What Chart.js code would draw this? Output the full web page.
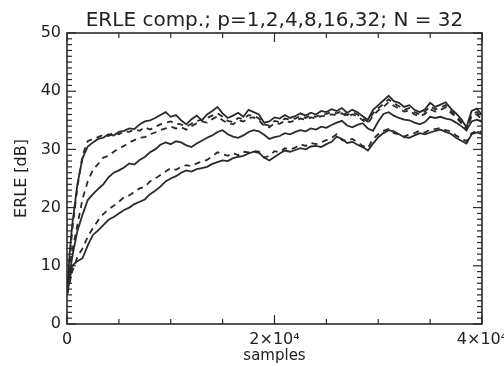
<!DOCTYPE html>
<html>
<head>
<meta charset="utf-8">
<script src="https://cdn.jsdelivr.net/npm/chart.js@4.4.1/dist/chart.umd.min.js"></script>
<style>
  html, body { margin: 0; padding: 0; background: #fff; }
  canvas { display: block; }
</style>
</head>
<body>
<canvas id="erleChart" width="504" height="366"></canvas>
<script>
// sample index (x axis)
const samples = [0,250,500,1000,1500,2000,2500,3000,3500,4000,4500,5000,5500,6000,6500,7000,7500,8000,8500,9000,9500,10000,10500,11000,11500,12000,12500,13000,13500,14000,14500,15000,15500,16000,16500,17000,17500,18000,18500,19000,19500,20000,20500,21000,21500,22000,22500,23000,23500,24000,24500,25000,25500,26000,26500,27000,27500,28000,28500,29000,29500,30000,30500,31000,31500,32000,32500,33000,33500,34000,34500,35000,35500,36000,36500,37000,37500,38000,38500,39000,39500,40000];

// ERLE in dB, one curve per p
const erleP32 = [5,12,17,24,28.5,30.5,31.2,31.8,32.0,32.6,32.4,33.0,33.2,33.6,33.5,34.3,34.8,35.0,35.4,35.9,36.4,35.6,35.9,35.0,34.3,35.2,35.8,35.0,36.0,36.6,37.3,36.2,35.4,35.8,36.3,35.6,36.8,36.4,36.0,34.6,34.8,35.5,35.3,35.9,35.4,35.7,36.2,35.8,36.3,36.0,36.6,36.4,36.9,36.6,37.1,36.3,36.8,36.4,35.7,35.1,36.8,37.6,38.4,39.2,38.3,38.0,37.3,37.6,36.8,36.4,36.9,38.0,37.3,37.7,38.1,37.0,36.2,35.2,33.8,36.6,37.0,35.9];
const erleP16 = [5,11,16,23.5,29,31.4,31.8,32.1,32.5,32.3,32.9,32.6,33.1,33.0,33.4,33.2,33.8,33.4,33.9,34.3,34.6,34.8,34.4,34.3,33.9,34.4,34.9,35.1,35.4,35.8,36.2,35.6,34.9,34.7,35.4,35.2,35.9,35.8,35.3,34.3,34.1,34.9,34.7,35.3,35.1,35.3,35.7,35.4,35.9,35.6,36.0,36.1,36.4,36.2,36.6,35.9,36.4,36.0,35.3,34.8,36.2,37.1,37.8,38.6,37.9,37.4,36.8,37.1,36.4,36.0,36.5,37.4,36.9,37.2,37.6,36.6,35.8,34.8,33.5,36.1,36.4,35.5];
const erleP8 = [5,9,12.5,17,21.5,24.5,26.5,27.5,28.6,28.9,29.6,30.2,30.6,31.2,31.6,32.0,32.1,32.6,32.9,33.3,33.6,33.9,33.6,33.8,33.4,34.0,34.5,34.8,34.6,35.2,35.7,35.0,34.5,34.3,35.0,34.8,35.4,35.5,35.0,34.0,33.8,34.5,34.4,34.9,34.7,35.0,35.3,35.1,35.5,35.3,35.7,35.8,36.0,35.9,36.2,35.6,36.0,35.7,35.0,34.5,35.8,36.7,37.3,38.1,37.5,37.0,36.5,36.7,36.0,35.7,36.1,36.9,36.5,36.8,37.2,36.3,35.5,34.5,33.3,35.7,36.0,35.2];
const erleP4 = [5,8.5,11.5,16,18.8,21.3,22.3,23.2,24.0,25.2,26.0,26.4,26.9,27.6,27.4,28.2,28.7,29.5,30.0,30.8,31.2,30.9,31.4,31.2,30.7,30.4,31.0,31.5,32.0,32.4,33.0,33.3,32.6,32.2,32.0,32.4,33.0,33.3,33.1,32.5,31.8,32.1,32.3,32.8,32.6,33.0,33.3,33.1,33.6,33.4,33.9,33.7,34.2,34.6,34.9,34.1,33.8,34.2,34.5,33.6,33.2,34.8,36.1,36.4,35.8,35.4,35.1,35.0,34.6,34.3,34.7,35.6,35.4,35.6,35.3,35.1,34.6,34.0,33.3,34.8,35.1,34.7];
const erleP2 = [5,7,9,11.5,13,15.0,16.5,17.8,18.9,19.7,20.3,21.0,21.8,22.1,22.7,23.3,23.6,24.5,25.0,25.6,26.2,26.8,26.5,27.0,27.3,27.1,27.6,27.9,28.2,28.8,29.5,29.2,28.9,29.4,29.0,29.6,29.5,29.7,29.6,28.6,28.9,29.7,29.5,30.2,30.0,30.3,30.9,30.6,31.1,30.9,31.2,31.6,32.0,32.6,31.6,31.5,31.8,31.2,30.6,30.2,31.8,32.6,33.2,33.5,32.8,32.6,32.2,32.6,32.8,33.2,32.9,33.4,33.5,33.7,33.3,33.1,32.4,31.9,31.4,32.8,33.2,33.0];
const erleP1 = [5,7.5,10,10.8,11.3,13.5,15.3,16.1,17.0,17.9,18.4,19.0,19.6,20.0,20.6,21.0,21.4,22.3,22.9,23.6,24.5,25.0,25.4,26.0,26.4,26.2,26.6,26.8,27.0,27.5,27.8,28.1,28.0,28.5,28.7,28.9,29.3,29.6,29.4,28.6,28.1,28.7,29.3,29.8,29.6,29.9,30.2,30.0,30.5,30.6,30.4,30.9,31.3,32.2,31.8,31.1,31.3,30.8,30.4,29.8,31.0,32.1,32.8,33.3,33.1,32.6,32.1,32.0,32.4,32.8,32.6,32.9,33.2,33.4,33.0,32.7,32.0,31.5,31.0,32.6,32.9,32.6];

const xTickLabels = {0: '0', 20000: '2×10⁴', 40000: '4×10⁴'};

const ink = '#2a2a2a';
const font = 'DejaVu Sans';

function curve(vals, dashed) {
    return {
        data: samples.map((s, i) => ({x: s, y: vals[i]})),
        borderColor: ink,
        borderWidth: 1.8,
        borderDash: dashed ? [6, 5] : [],
        pointRadius: 0,
        tension: 0,
        fill: false
    };
}

// box round the plot with inward ticks on all four sides
const frameTicks = {
    id: 'frameTicks',
    afterDraw(chart) {
        const ctx = chart.ctx;
        const a = chart.chartArea;
        const xs = chart.scales.x, ys = chart.scales.y;
        ctx.save();
        ctx.setLineDash([]);
        ctx.strokeStyle = ink;
        ctx.lineWidth = 1.6;
        ctx.strokeRect(a.left, a.top, a.right - a.left, a.bottom - a.top);
        ctx.fillStyle = ink;
        for (let v = 0; v <= 50; v++) {
            const py = ys.getPixelForValue(v);
            const len = v % 10 === 0 ? 9 : 5;
            ctx.fillRect(a.left, py - 0.6, len, 1.2);
            ctx.fillRect(a.right - len, py - 0.6, len, 1.2);
        }
        for (let v = 0; v <= 40000; v += 5000) {
            const px = xs.getPixelForValue(v);
            const len = v % 20000 === 0 ? 9 : 5;
            ctx.fillRect(px - 0.6, a.bottom - len, 1.2, len);
            ctx.fillRect(px - 0.6, a.top, 1.2, len);
        }
        ctx.restore();
    }
};

new Chart(document.getElementById('erleChart'), {
    type: 'line',
    data: {
        datasets: [
            curve(erleP32, false),
            curve(erleP16, true),
            curve(erleP8, true),
            curve(erleP4, false),
            curve(erleP2, true),
            curve(erleP1, false)
        ]
    },
    options: {
        responsive: false,
        animation: false,
        layout: {padding: {left: 6, right: 0, top: 0, bottom: 1}},
        plugins: {
            legend: {display: false},
            tooltip: {enabled: false},
            title: {
                display: true,
                fullSize: false,
                text: 'ERLE comp.; p=1,2,4,8,16,32; N = 32',
                color: '#222',
                font: {family: font, size: 20, weight: 'normal'},
                padding: {top: 9, bottom: 0}
            }
        },
        scales: {
            x: {
                type: 'linear',
                min: 0,
                max: 40000,
                grid: {display: false, drawTicks: false},
                border: {display: false},
                ticks: {
                    stepSize: 20000,
                    maxRotation: 0,
                    padding: 6,
                    color: '#222',
                    font: {family: font, size: 16},
                    callback: v => xTickLabels[v] ?? ''
                },
                title: {
                    display: true,
                    text: 'samples',
                    color: '#222',
                    font: {family: font, size: 15},
                    padding: {top: 0, bottom: 0}
                },
                afterFit(scale) {
                    scale.height = 41;
                    scale.paddingLeft = 0;
                    scale.paddingRight = 22;
                }
            },
            y: {
                min: 0,
                max: 50,
                grid: {display: false, drawTicks: false},
                border: {display: false},
                ticks: {
                    stepSize: 10,
                    padding: 6,
                    color: '#222',
                    font: {family: font, size: 16}
                },
                title: {
                    display: true,
                    text: 'ERLE [dB]',
                    color: '#222',
                    font: {family: font, size: 16},
                    padding: {top: 6, bottom: 10}
                },
                afterFit(scale) {
                    scale.width = 61;
                }
            }
        }
    },
    plugins: [frameTicks]
});
</script>
</body>
</html>
